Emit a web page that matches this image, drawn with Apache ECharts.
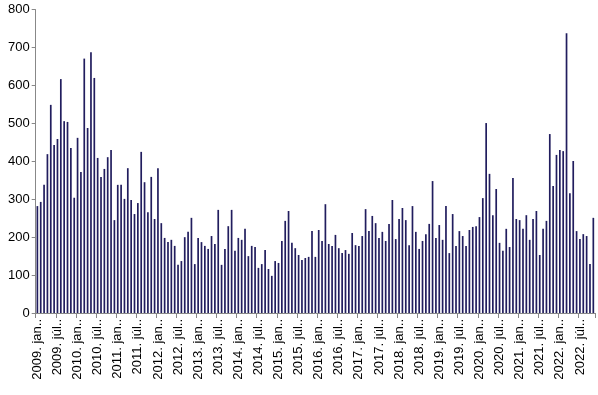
<!DOCTYPE html>
<html>
<head>
<meta charset="utf-8">
<script src="https://cdn.jsdelivr.net/npm/echarts@6/dist/echarts.min.js"></script>
<style>
html,body{margin:0;padding:0;background:#fff;}
#c{width:598px;height:395px;}
</style>
</head>
<body>
<div id="c"></div>
<script>
const years = [2009,2010,2011,2012,2013,2014,2015,2016,2017,2018,2019,2020,2021,2022];
const monthNames = ["jan.","febr.","márc.","ápr.","máj.","jún.","júl.","aug.","szept.","okt.","nov.","dec."];
const lastMonthCount = 11; // 2022: jan..nov
const values = [
  282,293,338,419,549,443,459,617,506,504,435,304,
  462,372,671,488,688,620,409,359,380,411,430,245,
  338,338,301,382,298,261,290,425,345,266,359,248,
  382,237,198,187,193,177,127,137,200,214,251,129,
  198,187,177,169,203,182,272,127,169,229,272,164,
  198,193,222,150,177,174,119,129,166,116,98,137,
  132,190,243,269,185,171,153,140,145,148,216,148,
  219,190,287,182,177,206,171,158,166,156,211,179,
  177,203,274,216,256,237,198,214,190,235,298,195,
  248,277,245,179,282,214,169,190,208,235,348,198,
  232,193,282,158,261,177,216,203,177,219,227,229,
  253,303,501,367,258,327,185,164,222,174,356,248,
  245,222,258,193,248,269,153,222,243,472,335,417,
  430,427,738,316,401,216,195,208,203,129,251
];
const yMin = 0, yMax = 800, yStep = 100;

const categories = [];
years.forEach((y, yi) => {
  const n = (yi === years.length - 1) ? lastMonthCount : 12;
  for (let m = 0; m < n; m++) categories.push(y + ". " + monthNames[m] + ".");
});

const chart = echarts.init(document.getElementById('c'), null, {renderer: 'canvas'});
const font = 'Liberation Sans, Arial, sans-serif';
chart.setOption({
  animation: false,
  backgroundColor: '#ffffff',
  grid: {left: 35.7, top: 9.7, width: 559.3, bottom: 82, containLabel: false},
  xAxis: {
    type: 'category',
    data: categories,
    boundaryGap: true,
    axisLine: {lineStyle: {color: '#888888', width: 1}},
    axisTick: {show: true, interval: 5, length: 5, lineStyle: {color: '#888888'}},
    axisLabel: {interval: 5, rotate: 90, color: '#000', fontFamily: font, fontSize: 13, margin: 6}
  },
  yAxis: {
    type: 'value',
    min: yMin, max: yMax, interval: yStep,
    axisLine: {show: true, lineStyle: {color: '#888888', width: 1}},
    axisTick: {show: true, length: 4, lineStyle: {color: '#888888'}},
    splitLine: {show: false},
    axisLabel: {color: '#000', fontFamily: font, fontSize: 13, margin: 6}
  },
  series: [{
    type: 'bar',
    data: values,
    barWidth: 1.7,
    itemStyle: {color: '#211d5e'}
  }]
});
</script>
</body>
</html>
